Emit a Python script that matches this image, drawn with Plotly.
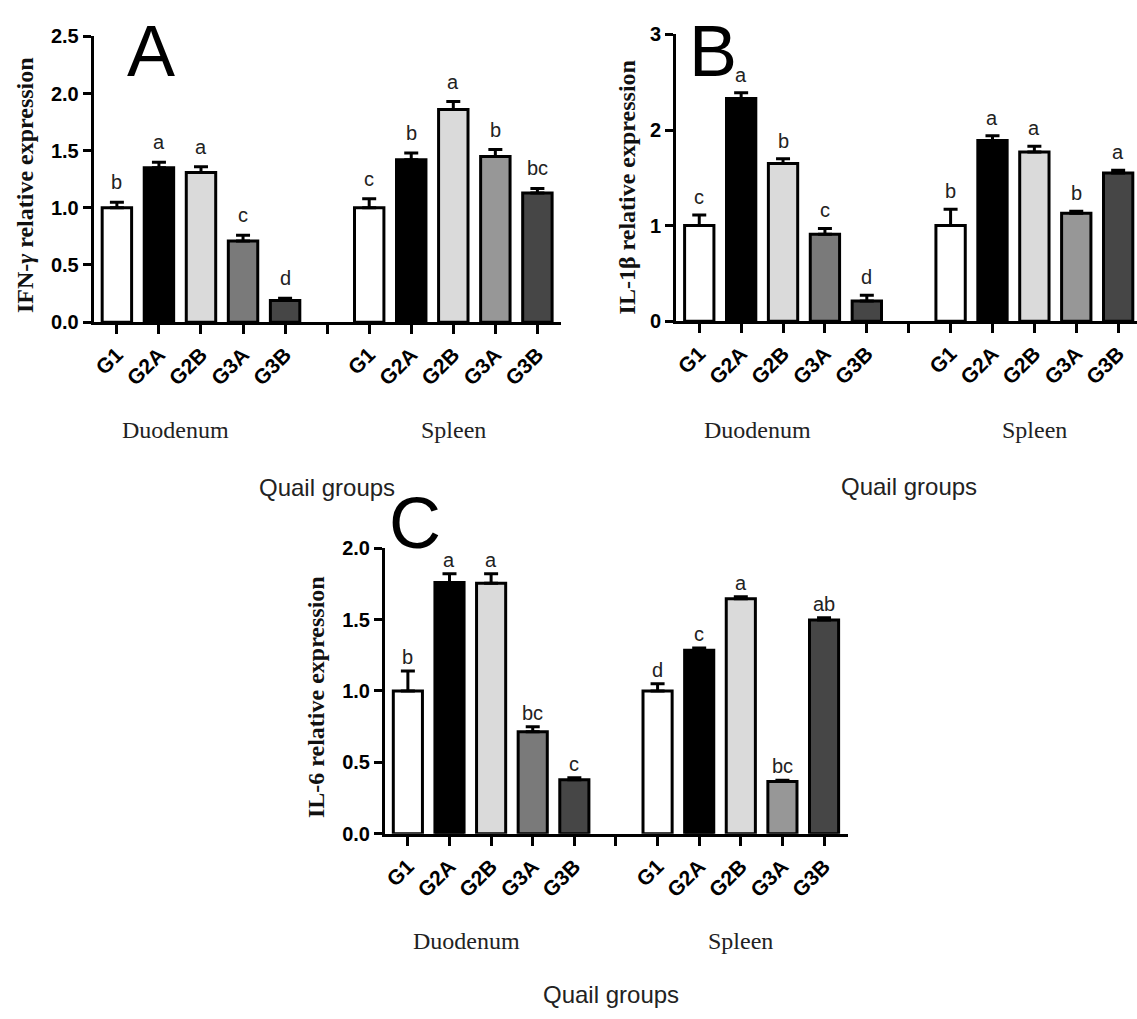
import plotly.graph_objects as go

# ---------------- data ----------------
groups = ["G1", "G2A", "G2B", "G3A", "G3B"]
tissues = ["Duodenum", "Spleen"]

ifn_duo = [1.00, 1.35, 1.31, 0.71, 0.19]
ifn_duo_err = [0.05, 0.05, 0.05, 0.05, 0.02]
ifn_spl = [1.00, 1.42, 1.86, 1.45, 1.13]
ifn_spl_err = [0.08, 0.06, 0.07, 0.06, 0.04]
ifn_duo_sig = ["b", "a", "a", "c", "d"]
ifn_spl_sig = ["c", "b", "a", "b", "bc"]

il1_duo = [1.00, 2.33, 1.65, 0.91, 0.21]
il1_duo_err = [0.11, 0.06, 0.05, 0.06, 0.06]
il1_spl = [1.00, 1.89, 1.77, 1.13, 1.55]
il1_spl_err = [0.17, 0.05, 0.06, 0.02, 0.03]
il1_duo_sig = ["c", "a", "b", "c", "d"]
il1_spl_sig = ["b", "a", "a", "b", "a"]

il6_duo = [1.00, 1.76, 1.755, 0.714, 0.378]
il6_duo_err = [0.14, 0.06, 0.065, 0.035, 0.015]
il6_spl = [1.00, 1.286, 1.645, 0.366, 1.497]
il6_spl_err = [0.05, 0.015, 0.015, 0.01, 0.015]
il6_duo_sig = ["b", "a", "a", "bc", "c"]
il6_spl_sig = ["d", "c", "a", "bc", "ab"]

y_titles = ["IFN-<i>γ</i> relative expression", "IL-1β relative expression", "IL-6 relative expression"]
panel_letters = ["A", "B", "C"]
x_title = "Quail groups"

# ---------------- styling / layout helpers ----------------
W, H = 1137, 1019

duo_colors = ["#ffffff", "#000000", "#dadada", "#7a7a7a", "#464646"]
spl_colors = ["#ffffff", "#000000", "#dadada", "#979797", "#464646"]


def px_x(p):
    return p / W


def px_y(p):
    return (H - p) / H


panels = [
    dict(key="", duo=ifn_duo, duo_err=ifn_duo_err, spl=ifn_spl, spl_err=ifn_spl_err,
         duo_sig=ifn_duo_sig, spl_sig=ifn_spl_sig,
         xdom=[px_x(91), px_x(559)], ydom=[px_y(318), px_y(26)],
         xrange=[-0.55, 10.55], yrange=[0, 2.5], dtick=0.5, fmt=".1f",
         sig_shift=20, letter_xy=(148, 41), title_xy=(22, 178),
         group_y=428, quail_xy=(325, 487)),
    dict(key="2", duo=il1_duo, duo_err=il1_duo_err, spl=il1_spl, spl_err=il1_spl_err,
         duo_sig=il1_duo_sig, spl_sig=il1_spl_sig,
         xdom=[px_x(675), 1.0], ydom=[px_y(317), px_y(24)],
         xrange=[-0.55, 10.45], yrange=[0, 3], dtick=1, fmt="d",
         sig_shift=18, letter_xy=(712, 41), title_xy=(626, 180),
         group_y=428, quail_xy=(908, 486)),
    dict(key="3", duo=il6_duo, duo_err=il6_duo_err, spl=il6_spl, spl_err=il6_spl_err,
         duo_sig=il6_duo_sig, spl_sig=il6_spl_sig,
         xdom=[px_x(383), px_x(847)], ydom=[px_y(841), px_y(549)],
         xrange=[-0.55, 10.57], yrange=[0, 2.0], dtick=0.5, fmt=".1f",
         sig_shift=14, letter_xy=(413, 523), title_xy=(314, 701),
         group_y=951, quail_xy=(610, 1005)),
]

fig = go.Figure()
annotations = []
layout_axes = {}

n = len(groups)
duo_x = list(range(n))
spl_x = [i + n + 1 for i in range(n)]
tickvals = list(range(2 * n + 1))
ticktext = groups + [""] + groups

for i, p in enumerate(panels):
    xa = "x" + p["key"]
    ya = "y" + p["key"]
    for xs, vals, errs, cols, sigs in [
        (duo_x, p["duo"], p["duo_err"], duo_colors, p["duo_sig"]),
        (spl_x, p["spl"], p["spl_err"], spl_colors, p["spl_sig"]),
    ]:
        fig.add_trace(go.Bar(
            x=xs, y=vals, xaxis=xa, yaxis=ya, width=0.7,
            marker=dict(color=cols, line=dict(color="black", width=3)),
            error_y=dict(type="data", symmetric=False, array=errs,
                         arrayminus=[0] * len(errs), thickness=3, width=7,
                         color="black"),
            showlegend=False, hoverinfo="skip",
        ))
        for xv, v, e, s in zip(xs, vals, errs, sigs):
            annotations.append(dict(
                x=xv, y=v + e, xref=xa, yref=ya, text=s, showarrow=False,
                yanchor="middle", xanchor="center", yshift=p["sig_shift"],
                font=dict(family="Liberation Sans, Arial", size=20, color="#222"),
            ))
    axis_font = dict(family="Liberation Sans, Arial", size=20, color="black", weight="bold")
    layout_axes["xaxis" + p["key"]] = dict(
        domain=p["xdom"], anchor=ya, range=p["xrange"], tickvals=tickvals,
        ticktext=ticktext, tickangle=-45, ticks="outside", ticklen=9, tickwidth=2.5,
        tickcolor="black", showline=True, linecolor="black", linewidth=3,
        showgrid=False, zeroline=False, tickfont=dict(axis_font, size=21),
        fixedrange=True,
    )
    layout_axes["yaxis" + p["key"]] = dict(
        domain=p["ydom"], anchor=xa, range=p["yrange"], dtick=p["dtick"],
        tickformat=p["fmt"], ticks="outside", ticklen=8, tickwidth=2.5,
        tickcolor="black", showline=True, linecolor="black", linewidth=3,
        showgrid=False, zeroline=False, tickfont=axis_font, fixedrange=True,
    )
    # panel letter
    lx, ly = p["letter_xy"]
    annotations.append(dict(
        x=px_x(lx), y=px_y(ly), xref="paper", yref="paper", text=panel_letters[i],
        showarrow=False, xanchor="center", yanchor="middle",
        font=dict(family="Liberation Sans, Arial", size=72, color="black"),
    ))
    # y title
    tx, ty = p["title_xy"]
    annotations.append(dict(
        x=px_x(tx), y=px_y(ty), xref="paper", yref="paper",
        text="<b>" + y_titles[i] + "</b>", textangle=-90, showarrow=False,
        xanchor="center", yanchor="middle",
        font=dict(family="Liberation Serif, Times New Roman", size=24, color="#111"),
    ))
    # tissue group labels
    for tname, gx in zip(tissues, [1.4, 8.0]):
        annotations.append(dict(
            x=gx, y=px_y(p["group_y"]), xref=xa, yref="paper", text=tname,
            showarrow=False, xanchor="center", yanchor="middle",
            font=dict(family="Liberation Serif, Times New Roman", size=24, color="#222"),
        ))
    qx, qy = p["quail_xy"]
    annotations.append(dict(
        x=px_x(qx), y=px_y(qy), xref="paper", yref="paper", text=x_title,
        showarrow=False, xanchor="center", yanchor="middle",
        font=dict(family="Liberation Sans, Arial", size=24, color="#222"),
    ))

fig.update_layout(
    width=W, height=H, margin=dict(l=0, r=0, t=0, b=0),
    paper_bgcolor="white", plot_bgcolor="white",
    barmode="overlay", annotations=annotations, **layout_axes,
)

# remove the page's default 8px body margin so the figure sits at the window origin
fig.write_html(
    "out.html",
    config={"displayModeBar": False},
    post_script="document.body.style.margin='0px';",
)
